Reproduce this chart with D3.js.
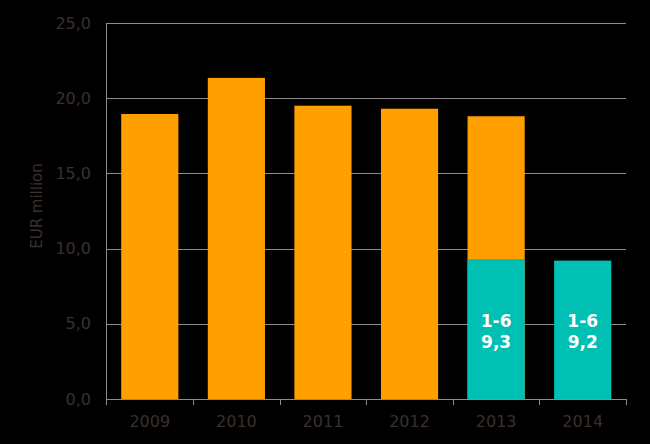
<html>
<head>
<script src="https://d3js.org/d3.v7.min.js"></script>
<style>
  body { margin: 0; background: #000; }
  text { font-family: "DejaVu Sans", Verdana, sans-serif; }
</style>
</head>
<body>
<svg id="chart" width="650" height="444"></svg>
<script>
const years = ["2009", "2010", "2011", "2012", "2013", "2014"];
const fullYear = [18.95, 21.35, 19.5, 19.3, 18.8, null];
const firstHalf = [null, null, null, null, 9.3, 9.2];
const halfLabel = "1-6";
const yTicks = [0, 5, 10, 15, 20, 25];

const svg = d3.select("#chart");
const margin = {top: 23, right: 24, bottom: 45, left: 106.5};
const width = 650, height = 444;

const x = d3.scaleBand().domain(years).range([margin.left, width - margin.right]).paddingInner(0.34).paddingOuter(0.17);
const xb = d3.scaleBand().domain(years).range([margin.left, width - margin.right]);
const y = d3.scaleLinear().domain([0, 25]).range([height - margin.bottom, margin.top]);
const fmt = d => d.toFixed(1).replace(".", ",");

// gridlines
svg.append("g")
  .selectAll("line").data(yTicks.slice(1)).join("line")
  .attr("x1", margin.left).attr("x2", width - margin.right)
  .attr("y1", d => Math.round(y(d)) + 0.5).attr("y2", d => Math.round(y(d)) + 0.5)
  .attr("stroke", "#8c8c8c").attr("stroke-width", 1);

// y tick labels
svg.append("g")
  .selectAll("text").data(yTicks).join("text")
  .attr("x", 91).attr("y", d => y(d))
  .attr("dy", "0.35em")
  .attr("text-anchor", "end")
  .attr("font-size", 16)
  .attr("fill", "#3a302d")
  .text(fmt);

// y axis title
svg.append("text")
  .attr("transform", "translate(42,206) rotate(-90)")
  .attr("text-anchor", "middle")
  .attr("font-size", 15)
  .attr("fill", "#3a302d")
  .text("EUR million");

// full-year bars
const rows = years.map((yr, i) => ({year: yr, full: fullYear[i], half: firstHalf[i]}));
svg.append("g")
  .selectAll("rect").data(rows.filter(d => d.full != null)).join("rect")
  .attr("x", d => x(d.year)).attr("width", x.bandwidth())
  .attr("y", d => y(d.full)).attr("height", d => y(0) - y(d.full))
  .attr("fill", "#ffa000");

// first-half bars
const half = rows.filter(d => d.half != null);
svg.append("g")
  .selectAll("rect").data(half).join("rect")
  .attr("x", d => x(d.year)).attr("width", x.bandwidth())
  .attr("y", d => y(d.half)).attr("height", d => y(0) - y(d.half))
  .attr("fill", "#00bfb3");

const lab = svg.append("g").selectAll("text").data(half).join("text")
  .attr("text-anchor", "middle")
  .attr("font-size", 17).attr("font-weight", "bold")
  .attr("fill", "#fff");
lab.append("tspan").attr("x", d => x(d.year) + x.bandwidth() / 2).attr("y", 327).text(halfLabel);
lab.append("tspan").attr("x", d => x(d.year) + x.bandwidth() / 2).attr("y", 348).text(d => fmt(d.half));

// axes lines
svg.append("line")
  .attr("x1", margin.left).attr("x2", margin.left)
  .attr("y1", margin.top).attr("y2", y(0) + 6)
  .attr("stroke", "#8c8c8c");
svg.append("line")
  .attr("x1", margin.left).attr("x2", width - margin.right)
  .attr("y1", Math.round(y(0)) + 0.5).attr("y2", Math.round(y(0)) + 0.5)
  .attr("stroke", "#8c8c8c");
svg.append("g")
  .selectAll("line").data(years).join("line")
  .attr("x1", d => Math.round(xb(d) + xb.bandwidth()) + 0.5)
  .attr("x2", d => Math.round(xb(d) + xb.bandwidth()) + 0.5)
  .attr("y1", y(0)).attr("y2", y(0) + 6)
  .attr("stroke", "#8c8c8c");

// x labels
svg.append("g")
  .selectAll("text").data(years).join("text")
  .attr("x", d => xb(d) + xb.bandwidth() / 2)
  .attr("y", 427)
  .attr("text-anchor", "middle")
  .attr("font-size", 16)
  .attr("fill", "#3a302d")
  .text(d => d);
</script>
</body>
</html>
